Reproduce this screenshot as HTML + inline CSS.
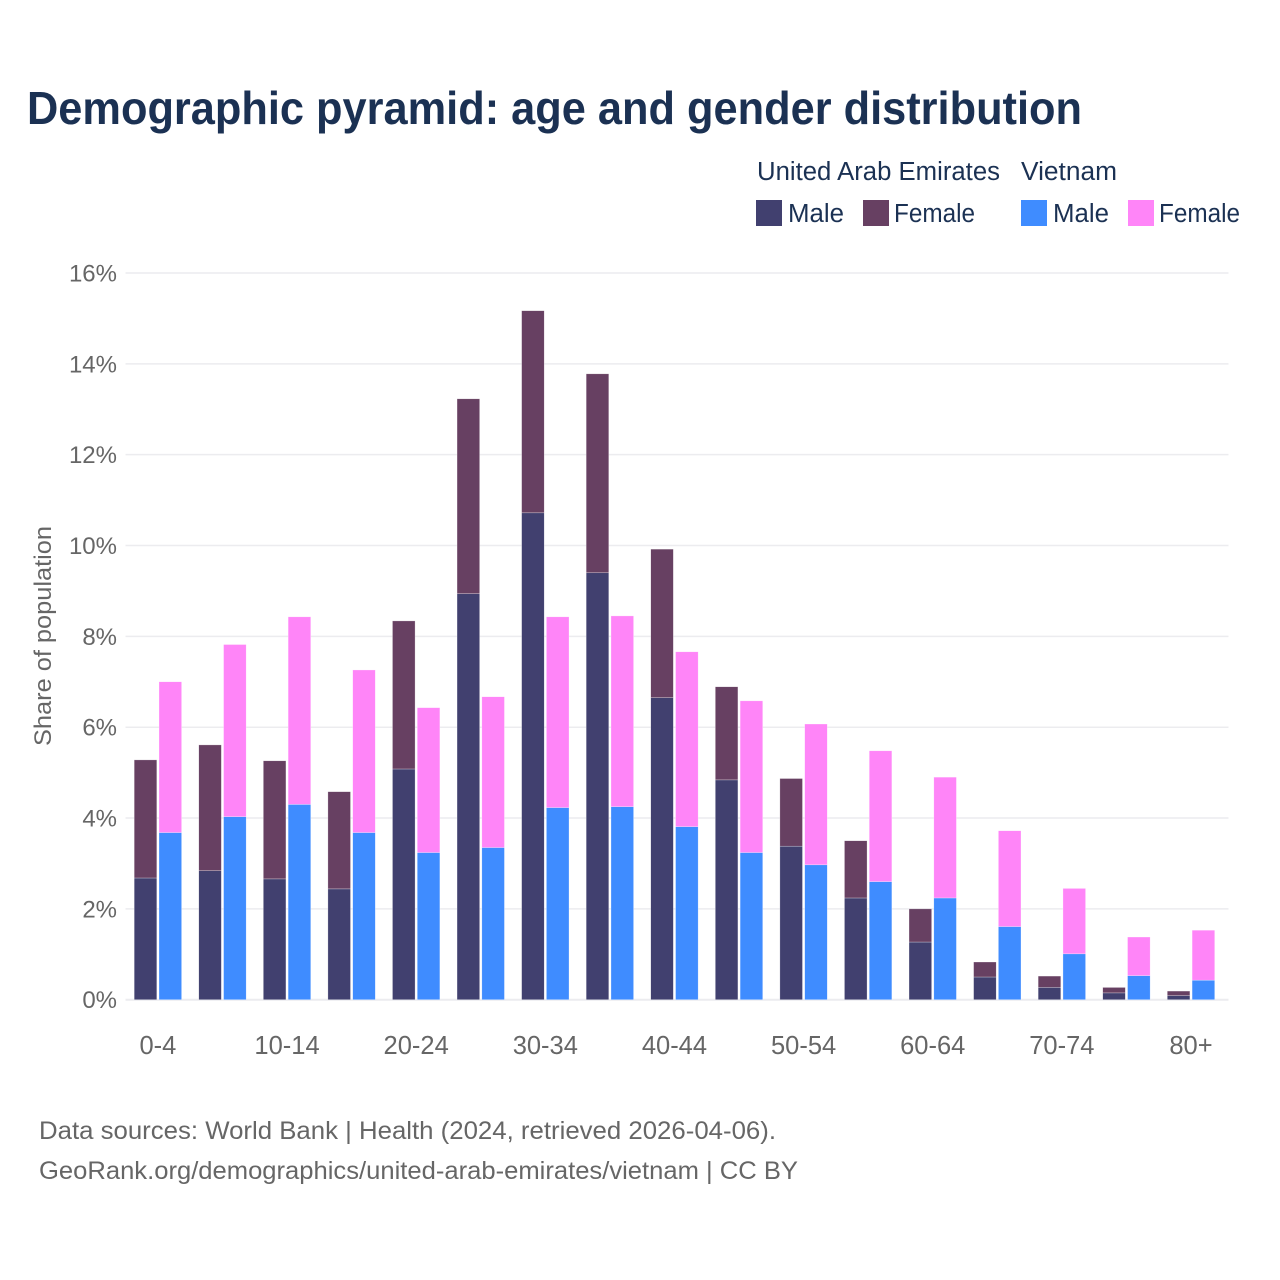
<!DOCTYPE html>
<html lang="en">
<head>
<meta charset="utf-8">
<title>Demographic pyramid: age and gender distribution</title>
<style>
html,body{margin:0;padding:0;background:#fff;}
svg{display:block;font-family:"Liberation Sans",sans-serif;}
</style>
</head>
<body>
<svg id="chart" xmlns="http://www.w3.org/2000/svg" width="1280" height="1280" viewBox="0 0 1280 1280">
<rect width="1280" height="1280" fill="#ffffff"/>
<text x="27" y="124" font-size="46" font-weight="700" fill="#1b3153" textLength="1055" lengthAdjust="spacingAndGlyphs">Demographic pyramid: age and gender distribution</text>

<g font-size="25.5" fill="#1b3153">
<text x="757" y="180" textLength="243" lengthAdjust="spacingAndGlyphs">United Arab Emirates</text>
<text x="1021" y="180" textLength="96" lengthAdjust="spacingAndGlyphs">Vietnam</text>
<rect x="756" y="200" width="26" height="26" fill="#41406f"/>
<text x="788" y="222" textLength="56" lengthAdjust="spacingAndGlyphs">Male</text>
<rect x="863" y="200" width="26" height="26" fill="#674062"/>
<text x="894" y="222" textLength="81" lengthAdjust="spacingAndGlyphs">Female</text>
<rect x="1021" y="200" width="26" height="26" fill="#3f8cff"/>
<text x="1053" y="222" textLength="56" lengthAdjust="spacingAndGlyphs">Male</text>
<rect x="1128" y="200" width="26" height="26" fill="#ff85f8"/>
<text x="1159" y="222" textLength="81" lengthAdjust="spacingAndGlyphs">Female</text>
</g>

<g id="grid"></g>
<g id="yticks"></g>
<g id="bars"></g>
<g id="xticks"></g>

<text transform="translate(51,636) rotate(-90)" text-anchor="middle" font-size="24" fill="#666666" textLength="220" lengthAdjust="spacingAndGlyphs">Share of population</text>

<text x="39" y="1139" font-size="25" fill="#666666" textLength="737" lengthAdjust="spacingAndGlyphs">Data sources: World Bank | Health (2024, retrieved 2026-04-06).</text>
<text x="39" y="1179" font-size="25" fill="#666666" textLength="759" lengthAdjust="spacingAndGlyphs">GeoRank.org/demographics/united-arab-emirates/vietnam | CC BY</text>
</svg>
<script>
const categories = ["0-4","5-9","10-14","15-19","20-24","25-29","30-34","35-39","40-44","45-49","50-54","55-59","60-64","65-69","70-74","75-79","80+"];
const uaeMale = [2.68,2.84,2.66,2.44,5.08,8.94,10.72,9.40,6.65,4.84,3.38,2.24,1.27,0.50,0.27,0.15,0.09];
const uaeFemale = [2.60,2.77,2.60,2.14,3.26,4.29,4.45,4.38,3.27,2.05,1.49,1.26,0.73,0.33,0.25,0.12,0.10];
const vietnamMale = [3.68,4.03,4.30,3.68,3.24,3.35,4.23,4.25,3.81,3.24,2.97,2.60,2.24,1.61,1.01,0.53,0.43];
const vietnamFemale = [3.32,3.79,4.13,3.58,3.19,3.32,4.20,4.20,3.85,3.34,3.10,2.88,2.66,2.11,1.44,0.85,1.10];
const yTickValues = [0,2,4,6,8,10,12,14,16];

const NS = "http://www.w3.org/2000/svg";
const plotLeft = 125.5, plotRight = 1228.5, baseY = 999.7, topY = 273;
const firstCenter = 157.9, lastCenter = 1191;
const barWidth = 22.6, barGap = 2.2;

function yScale(v) {
  return baseY - (v / 16) * (baseY - topY);
}
function xScale(i) {
  return firstCenter + i * (lastCenter - firstCenter) / (categories.length - 1);
}
function make(tag, attrs, parent) {
  const el = document.createElementNS(NS, tag);
  for (const k in attrs) el.setAttribute(k, attrs[k]);
  parent.appendChild(el);
  return el;
}

const gridG = document.getElementById("grid");
const yTicksG = document.getElementById("yticks");
yTickValues.forEach(function (v) {
  const y = yScale(v);
  const line = make("line", {x1: plotLeft, x2: plotRight, y1: y, y2: y, stroke: "#ececef", "stroke-width": v === 0 ? 2 : 1.5}, gridG);
  
  
  const t = make("text", {x: 117, y: y + 8.5, "text-anchor": "end", "font-size": 24, fill: "#666666"}, yTicksG);
  t.textContent = v + "%";
  
  
});

const barsG = document.getElementById("bars");
function drawSegment(x, bottomVal, val, color, name) {
  const yTop = yScale(bottomVal + val);
  const yBot = yScale(bottomVal);
  const r = make("rect", {x: x, y: yTop, width: barWidth, height: yBot - yTop, fill: color, stroke: "#ffffff", "stroke-opacity": 0.55, "stroke-width": 0.5}, barsG);
  
  
}
categories.forEach(function (c, i) {
  const cx = xScale(i);
  const leftX = cx - barGap / 2 - barWidth;
  const rightX = cx + barGap / 2;
  drawSegment(leftX, 0, uaeMale[i], "#41406f", "bar-uae-male");
  drawSegment(leftX, uaeMale[i], uaeFemale[i], "#674062", "bar-uae-female");
  drawSegment(rightX, 0, vietnamMale[i], "#3f8cff", "bar-vietnam-male");
  drawSegment(rightX, vietnamMale[i], vietnamFemale[i], "#ff85f8", "bar-vietnam-female");
});

const xTicksG = document.getElementById("xticks");
categories.forEach(function (c, i) {
  if (i % 2 !== 0) return;
  const t = make("text", {x: xScale(i), y: 1054, "text-anchor": "middle", "font-size": 25.5, fill: "#666666"}, xTicksG);
  t.textContent = c;
  
  
});
</script>
</body>
</html>
